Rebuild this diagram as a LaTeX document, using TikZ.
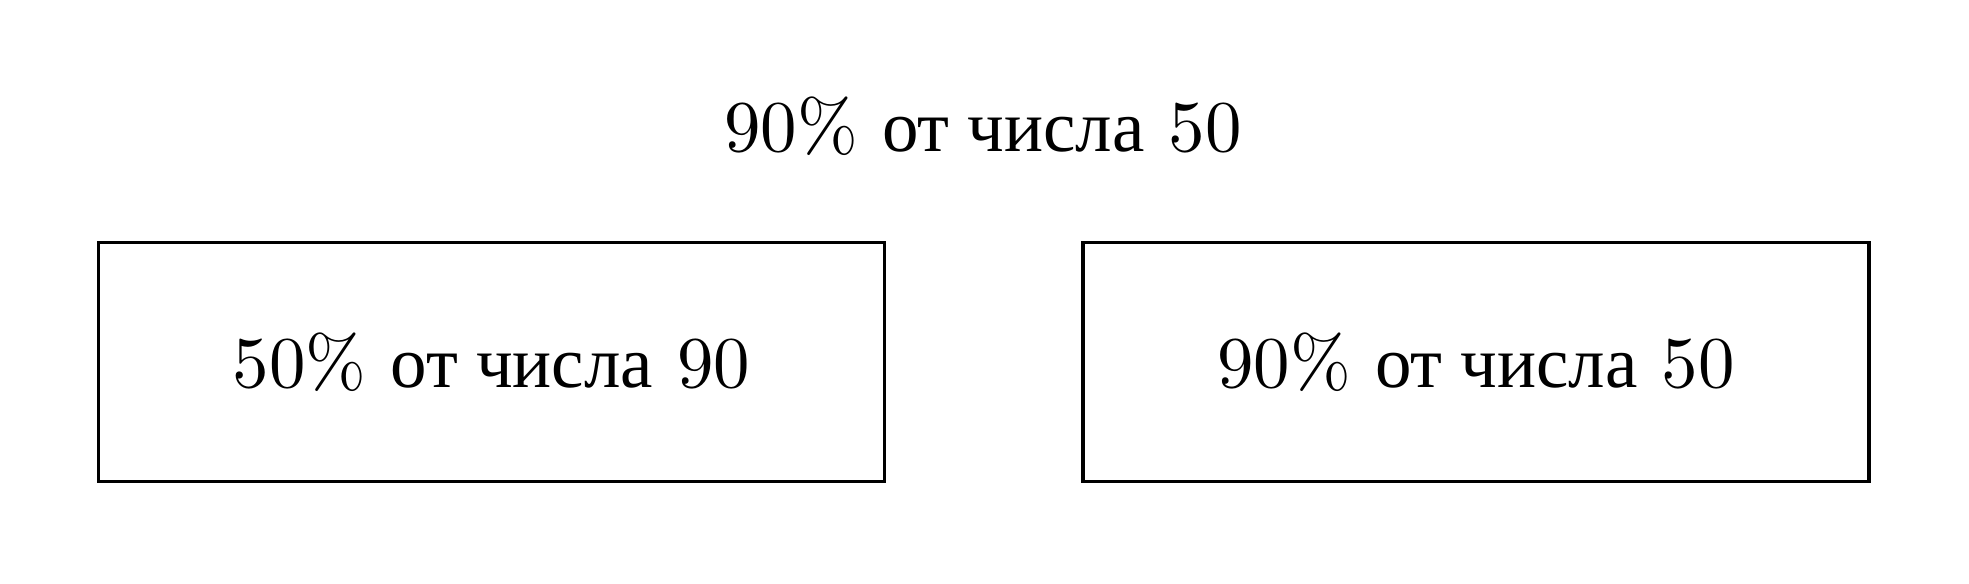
\documentclass[tikz,border=0pt]{standalone}
\usepackage{fontspec}
\setmainfont{lmroman10-regular}[Extension=.otf]
\newfontfamily\cyrfont{Liberation Serif}
\usetikzlibrary{positioning}

\tikzset{
  percbox/.style={draw,line width=1pt,minimum width=78.6mm,minimum height=23.9mm,inner sep=0pt},
  perctext/.style={font=\fontsize{20.74}{25}\selectfont}
}

\begin{document}
\begin{tikzpicture}[node distance=19.5mm,every node/.style={perctext}]
  \useasboundingbox (0,0) rectangle (196.9mm,58.3mm);
  \node[anchor=base]  (title) at (98.3mm,43.1mm) {90\% {\cyrfont от числа} 50};
  \node[percbox]      (left)  at (49.15mm,22.1mm) {50\% {\cyrfont от числа} 90};
  \node[percbox]      (right) [right=of left]     {90\% {\cyrfont от числа} 50};
\end{tikzpicture}
\end{document}
